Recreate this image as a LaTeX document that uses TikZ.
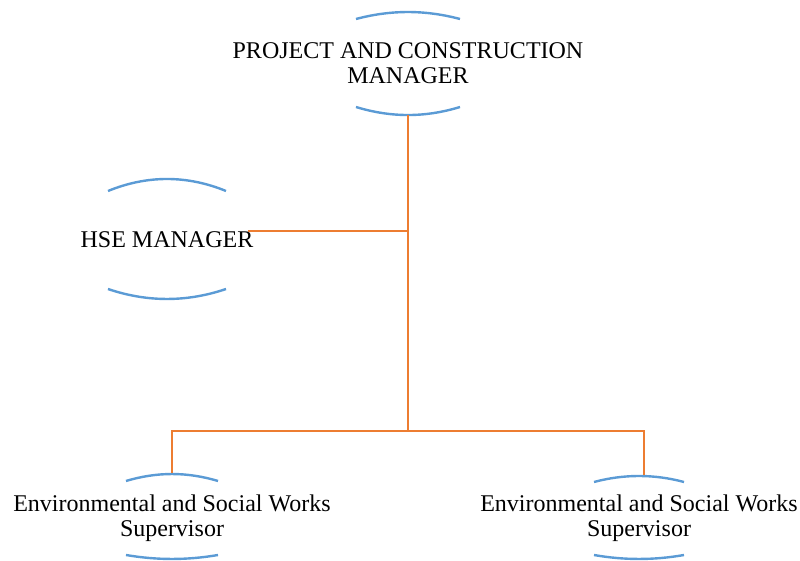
\documentclass[tikz,border=0pt]{standalone}
\usepackage{fontspec}
\setmainfont{Liberation Serif}
\usetikzlibrary{calc,positioning}
\definecolor{rimblue}{HTML}{5B9BD5}
\definecolor{linkorange}{HTML}{ED7D31}
\tikzset{unit/.style={inner sep=0pt, align=center, font=\fontsize{12}{12.5}\selectfont}}
\tikzset{rim/.style={draw=rimblue, line width=1.2pt}}
\tikzset{link/.style={draw=linkorange, line width=1.3pt}}

\begin{document}
\begin{tikzpicture}[x=0.5pt, y=-0.5pt]
    \useasboundingbox (0, 0) rectangle (800, 561);

    \node[unit] (pcm) at (408, 63) {PROJECT AND CONSTRUCTION\\MANAGER};
    \node[unit] (hse) at (167, 240) {HSE MANAGER};
    \node[unit] (esw1) at (172, 518) {Environmental and Social Works\\Supervisor};
    \node[unit] (esw2) at (639, 518) {Environmental and Social Works\\Supervisor};

    % top and bottom arcs of each ellipse
    \draw[rim]
    ($(pcm) + (-52, -44)$) .. controls ($(pcm) + (-17, -53.3)$) and ($(pcm) + (17, -53.3)$) .. ($(pcm) + (52, -44)$)
    ($(pcm) + (-52, 44)$) .. controls ($(pcm) + (-17, 54.7)$) and ($(pcm) + (17, 54.7)$) .. ($(pcm) + (52, 44)$);
    \draw[rim]
    ($(hse) + (-59, -49)$) .. controls ($(hse) + (-20, -65)$) and ($(hse) + (20, -65)$) .. ($(hse) + (59, -49)$)
    ($(hse) + (-59, 49)$) .. controls ($(hse) + (-20, 62.3)$) and ($(hse) + (20, 62.3)$) .. ($(hse) + (59, 49)$);
    \draw[rim]
    ($(esw1) + (-46, -37)$) .. controls ($(esw1) + (-15, -46.3)$) and ($(esw1) + (15, -46.3)$) .. ($(esw1) + (46, -37)$)
    ($(esw1) + (-46, 37)$) .. controls ($(esw1) + (-15, 42.3)$) and ($(esw1) + (15, 42.3)$) .. ($(esw1) + (46, 37)$);
    \draw[rim]
    ($(esw2) + (-45, -36)$) .. controls ($(esw2) + (-15, -44)$) and ($(esw2) + (15, -44)$) .. ($(esw2) + (45, -36)$)
    ($(esw2) + (-45, 37)$) .. controls ($(esw2) + (-15, 42.3)$) and ($(esw2) + (15, 42.3)$) .. ($(esw2) + (45, 37)$);

    \coordinate (pcm-b) at ($(pcm) + (0, 52)$);
    \coordinate (hse-e) at ($(hse) + (81, -9)$);
    \coordinate (esw1-t) at ($(esw1) + (0, -45)$);
    \coordinate (esw2-t) at ($(esw2) + (5, -43)$);
    \coordinate (tap) at (408, 231);
    \coordinate (bus) at (408, 431);

    \draw[link] (pcm-b) -- (bus);
    \draw[link] (hse-e) -- (tap);
    \draw[link] (esw1-t) |- (bus) -| (esw2-t);
\end{tikzpicture}
\end{document}
